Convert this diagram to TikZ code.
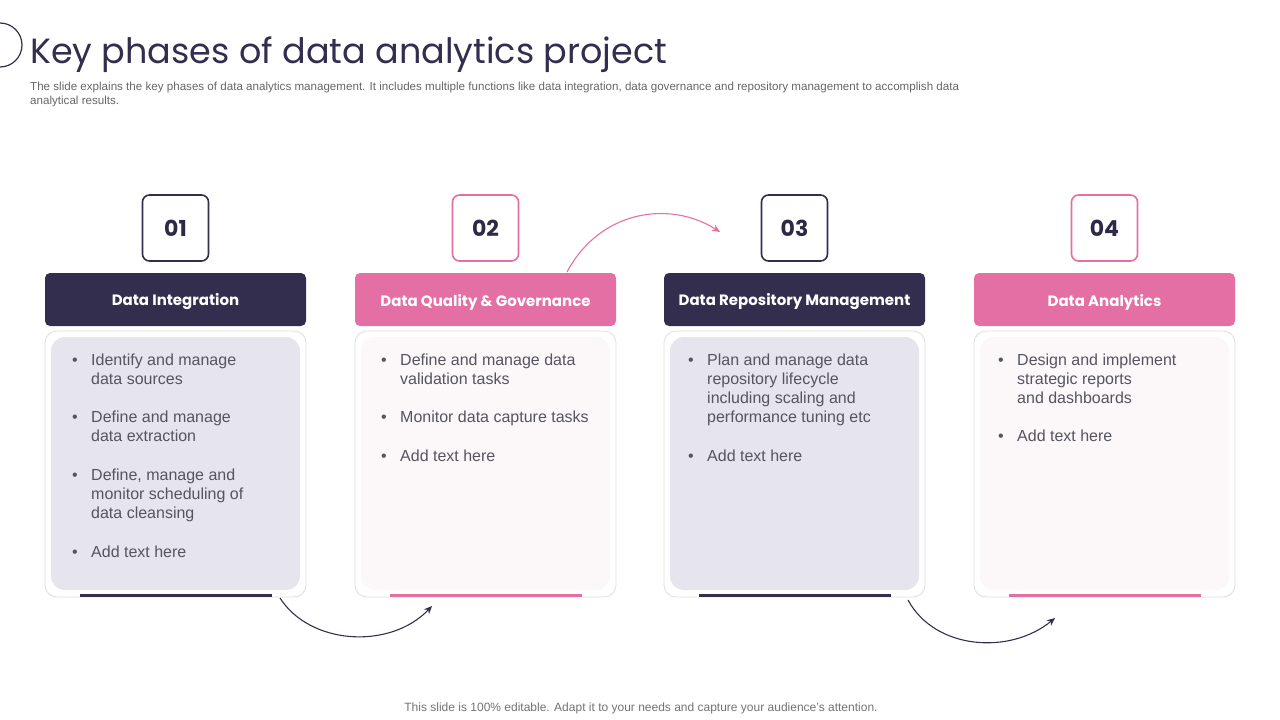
\documentclass[tikz,border=0pt]{standalone}
\usepackage{fontspec}
\setmainfont{Liberation Sans}
\newfontfamily\popp{Poppins}
\usetikzlibrary{arrows.meta}
\definecolor{navy}{HTML}{332E4E}
\definecolor{pinkc}{HTML}{E36FA4}
\definecolor{lav}{HTML}{E6E5EE}
\definecolor{lpink}{HTML}{FCF7F9}
\definecolor{txt}{HTML}{555560}
\tikzset{
 hdr/.style={rounded corners=5pt,minimum width=261pt,minimum height=53pt,text=white,font=\popp\bfseries\fontsize{15}{18}\selectfont,inner sep=0},
 numbox/.style={draw=#1,line width=1.6pt,rounded corners=7pt,minimum width=66pt,minimum height=66pt,fill=white,font=\popp\bfseries\fontsize{22}{26}\selectfont,text=navy!90!black},
 outer/.style={draw=black!13,line width=0.8pt,rounded corners=12pt,minimum width=261pt,minimum height=266pt,fill=white},
 inner/.style={rounded corners=14pt,minimum width=249pt,minimum height=253pt,fill=#1},
 ln/.style={anchor=base west,inner sep=0,font=\fontsize{16}{19}\selectfont,text=txt},
 conn/.style={line width=1.1pt,-{Stealth[length=8pt,width=7pt]}},
}
\begin{document}
\begin{tikzpicture}[x=1pt,y=-1pt]
\useasboundingbox (0,0) rectangle (1280,720);
\draw[navy,line width=1.2pt] (0,45) circle (22);
\fill[white] (-30,0) rectangle (0,80);
\node[anchor=base west,inner sep=0,font=\popp\fontsize{35}{40}\selectfont,text=navy] (title) at (30,63) {Key phases of data analytics project};
\node[anchor=north west,inner sep=0,font=\fontsize{11.6}{14}\selectfont,text=black!60,align=left] (sub) at (30,82) {The slide explains the key phases of data analytics management. It includes multiple functions like data integration, data governance and repository management to accomplish data\\analytical results.};
\node[font=\fontsize{12}{14}\selectfont,text=black!55] (foot) at (641,708) {This slide is 100\% editable. Adapt it to your needs and capture your audience's attention.};
\foreach \i/\x/\c/\f/\t in {1/45/navy/lav/Data Integration,2/355/pinkc/lpink/Data Quality \& Governance,3/664/navy/lav/Data Repository Management,4/974/pinkc/lpink/Data Analytics}{
  \node[numbox=\c] (n\i) at (\x+130.5,228) {0\i};
  \node[hdr,fill=\c] (h\i) at (\x+130.5,299.5) {};
  \node[text=white,font=\popp\bfseries\fontsize{15}{18}\selectfont,inner sep=0] (ht\i) at (\x+130.5,302) {\t};
  \node[outer] (o\i) at (\x+130.5,464) {};
  \node[inner=\f] (in\i) at (\x+130.5,463.5) {};
  \fill[\c] (\x+35,593.5) rectangle (\x+227,597);
}
% texts
\foreach \y/\s in {365/Identify  and manage,384/data sources,422/Define and manage,441/data extraction,480/{Define, manage and},499/monitor scheduling of,518/data cleansing,557/Add text here}{\node[ln] at (91,\y) {\s};}
\foreach \y in {365,422,480,557}{\node[ln] at (72,\y) {•};}
\foreach \y/\s in {365/Define and manage data,384/validation tasks,422/Monitor data capture tasks,461/Add text here}{\node[ln] at (400,\y) {\s};}
\foreach \y in {365,422,461}{\node[ln] at (381,\y) {•};}
\foreach \y/\s in {365/Plan and manage data,384/repository lifecycle,403/including scaling and,422/performance tuning etc,461/Add text here}{\node[ln] at (707,\y) {\s};}
\foreach \y in {365,461}{\node[ln] at (688,\y) {•};}
\foreach \y/\s in {365/Design and implement,384/strategic reports,403/and dashboards,441/Add text here}{\node[ln] at (1017,\y) {\s};}
\foreach \y in {365,441}{\node[ln] at (998,\y) {•};}
% connectors
\coordinate (a1s) at (280,598); \coordinate (a1e) at (432,606);
\draw[conn,navy] (a1s) .. controls (310,645) and (390,650) .. (a1e);
\coordinate (a2s) at (567,272); \coordinate (a2e) at (720,232);
\draw[conn,pinkc] (a2s) .. controls (600,210) and (670,200) .. (a2e);
\coordinate (a3s) at (908,600); \coordinate (a3e) at (1055,618);
\draw[conn,navy] (a3s) .. controls (935,650) and (1010,655) .. (a3e);
\end{tikzpicture}
\end{document}
